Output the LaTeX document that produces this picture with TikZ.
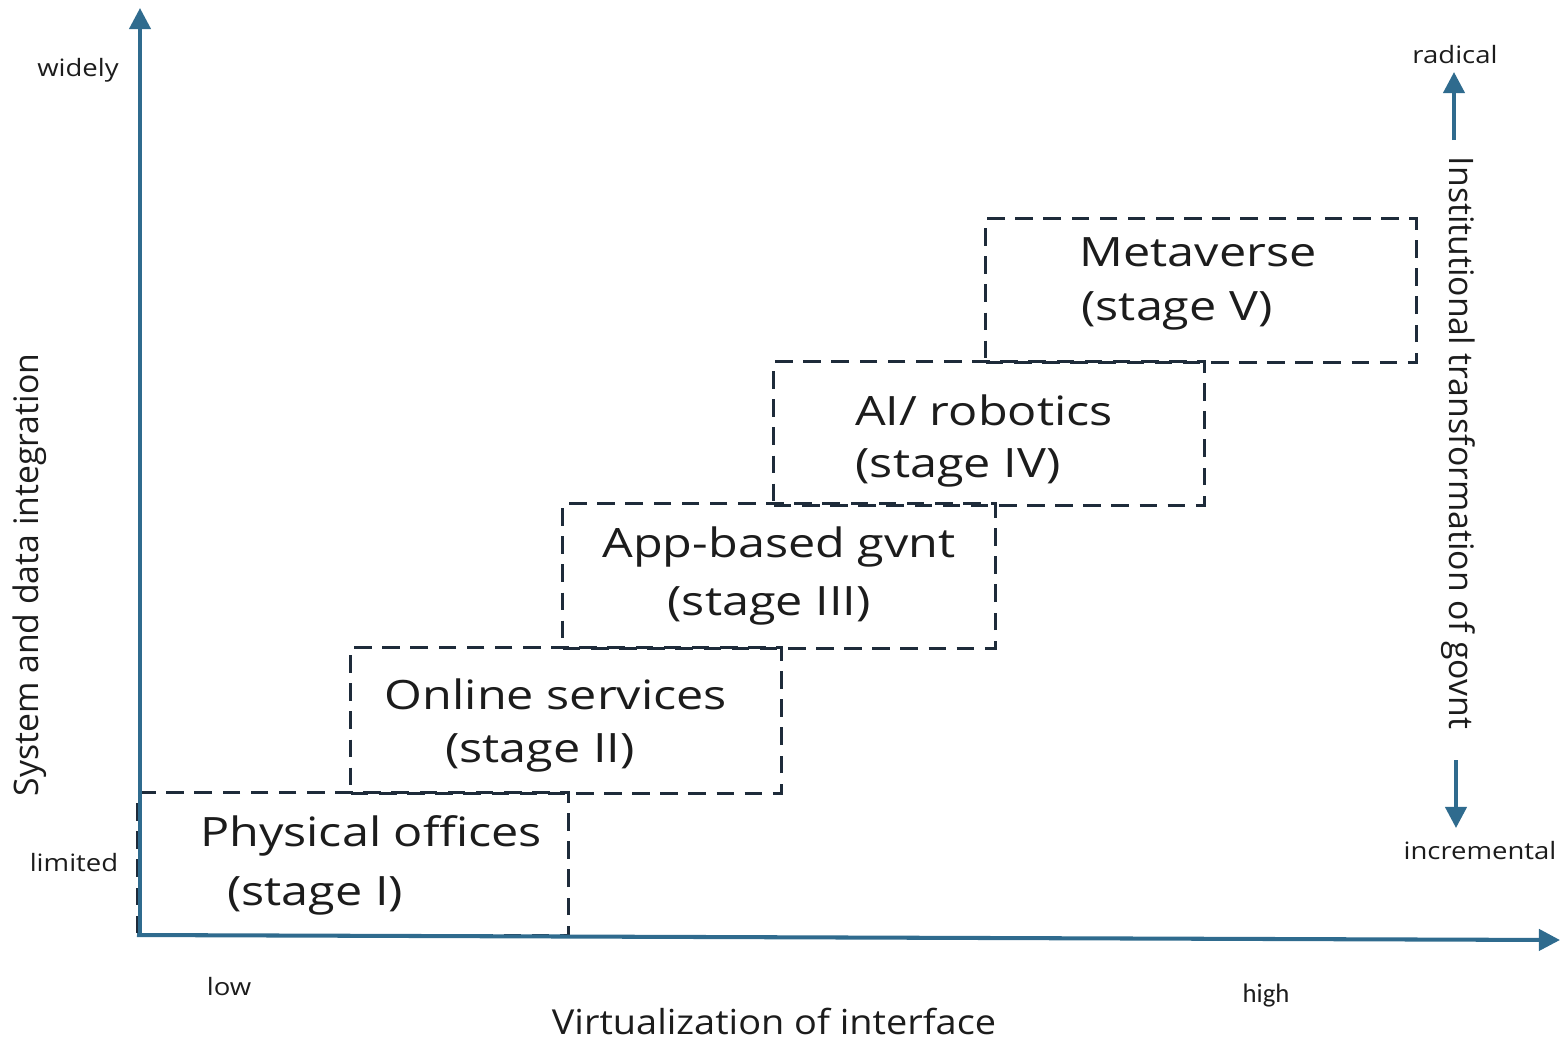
\documentclass[tikz,border=0pt]{standalone}
\usepackage{fontspec}
\setmainfont{Open Sans}
\newfontfamily\stagefont[FakeStretch=1.2]{Open Sans}
\newfontfamily\smallfont[FakeStretch=1.15]{Open Sans}
\newfontfamily\xfont[FakeStretch=1.1]{Open Sans}
\newfontfamily\calib{Carlito}
\usetikzlibrary{arrows.meta}
\definecolor{axisblue}{HTML}{2F6B8E}
\definecolor{boxline}{HTML}{1E2B3A}
\definecolor{ink}{HTML}{1C1C1C}
\tikzset{
  axisline/.style={draw=axisblue, line width=1.15pt, -{Triangle[length=6pt,width=6pt]}},
  stagebox/.style={draw=boxline, line width=0.85pt, dash pattern=on 5pt off 3pt, rectangle, inner sep=0pt},
  stagetext/.style={text=ink, font=\stagefont\fontsize{11.5}{13}\selectfont, inner sep=0pt},
  ticklabel/.style={text=ink, font=\smallfont\fontsize{6.8}{8}\selectfont, inner sep=0pt},
  axislabel/.style={text=ink, font=\fontsize{9.6}{11}\selectfont, inner sep=0pt},
}
\begin{document}
\begin{tikzpicture}[x=0.01cm, y=-0.01cm]
\useasboundingbox (0,0) rectangle (1563,1038);

% stage boxes (drawn first so the axes sit on top)
\node[stagebox, minimum width=4.30cm, minimum height=1.42cm] (s1) at (353,864) {};
\node[stagebox, minimum width=4.30cm, minimum height=1.45cm] (s2) at (566,720.5) {};
\node[stagebox, minimum width=4.32cm, minimum height=1.44cm] (s3) at (779,576) {};
\node[stagebox, minimum width=4.30cm, minimum height=1.43cm] (s4) at (989,433.5) {};
\node[stagebox, minimum width=4.30cm, minimum height=1.43cm] (s5) at (1201,290.5) {};

% axes
\coordinate (origin) at (140,935);
\coordinate (ytop) at (140,8);
\coordinate (xend) at (1560,940);
\coordinate (xstart) at (137,935);
\draw[axisline] (origin) -- (ytop);
\draw[axisline] (xstart) -- (xend);

% stage labels
\node[stagetext] (t1a) at (371,836) {Physical offices};
\node[stagetext] (t1b) at (315,896) {(stage I)};
\node[stagetext] (t2a) at (556,694) {Online services};
\node[stagetext] (t2b) at (540,753) {(stage II)};
\node[stagetext] (t3a) at (779,547) {App-based gvnt};
\node[stagetext] (t3b) at (769,606) {(stage III)};
\node[stagetext] (t4a) at (984,410) {AI/ robotics};
\node[stagetext] (t4b) at (958,468) {(stage IV)};
\node[stagetext] (t5a) at (1198,252) {Metaverse};
\node[stagetext] (t5b) at (1177,311) {(stage V)};

% axis end labels
\node[ticklabel] (widely) at (78,70) {widely};
\node[ticklabel] (limited) at (74,863) {limited};
\node[ticklabel] (low) at (229,987) {low};
\node[ticklabel, font=\calib\fontsize{7.6}{9}\selectfont] (high) at (1266,995) {high};
\node[axislabel, font=\xfont\fontsize{9.8}{11}\selectfont] (xlab) at (774,1021) {Virtualization of interface};
\node[axislabel, rotate=90] (ylab) at (30,575) {System and data integration};

% institutional transformation scale
\node[axislabel, rotate=-90] (instlab) at (1458,443) {Institutional transformation of govnt};
\node[ticklabel] (radical) at (1455,55) {radical};
\node[ticklabel] (incr) at (1480,851) {incremental};
\coordinate (upstart) at (1454,140);
\coordinate (uptip) at (1454,72);
\coordinate (downstart) at (1456,760);
\coordinate (downtip) at (1456,828);
\draw[axisline] (upstart) -- (uptip);
\draw[axisline] (downstart) -- (downtip);
\end{tikzpicture}
\end{document}
